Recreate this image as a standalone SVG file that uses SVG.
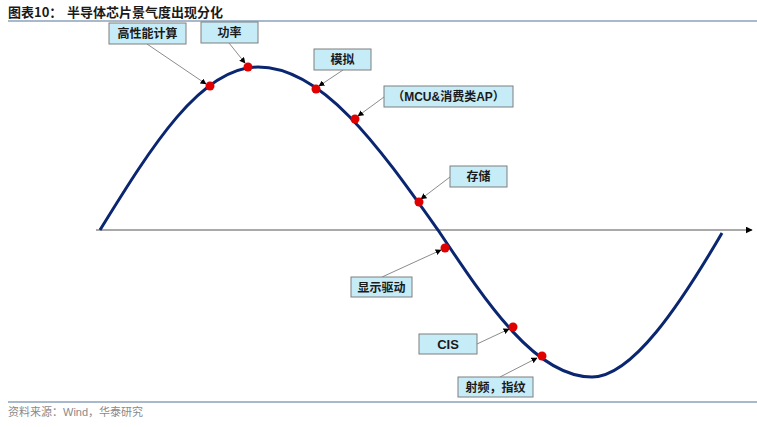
<svg xmlns="http://www.w3.org/2000/svg" width="757" height="427" viewBox="0 0 757 427">
<style>
.title{font-family:"Noto Sans CJK SC","Liberation Sans",sans-serif;font-weight:bold;font-size:13px;fill:#1a1a1a}
.src{font-family:"Liberation Sans","Noto Sans CJK SC",sans-serif;font-size:11px;fill:#8a8a8a}
.box{fill:#c6ecf8;stroke:#7f7f7f;stroke-width:1}
.lbl{font-family:"Liberation Sans","Noto Sans CJK SC",sans-serif;font-weight:bold;font-size:12px;fill:#1a1a1a;text-anchor:middle}
.lead{stroke:#8c8c8c;stroke-width:1;fill:none;marker-end:url(#ah)}
.dot{fill:#e00000}
</style>
<defs>
<marker id="ah" viewBox="0 0 10 10" refX="9" refY="5" markerWidth="6" markerHeight="6" orient="auto" markerUnits="userSpaceOnUse">
<path d="M0,0 L10,5 L0,10 Z" fill="#000"/>
</marker>
<marker id="axh" viewBox="0 0 10 10" refX="9" refY="5" markerWidth="7" markerHeight="7" orient="auto" markerUnits="userSpaceOnUse">
<path d="M0,0 L10,5 L0,10 Z" fill="#000"/>
</marker>
</defs>
<rect width="757" height="427" fill="#fff"/>
<text class="title" x="8" y="17">图表10：</text>
<text class="title" x="67" y="17">半导体芯片景气度出现分化</text>
<line x1="8" y1="21" x2="757" y2="21" stroke="#a9b9cd" stroke-width="2"/>
<line x1="8" y1="402" x2="757" y2="402" stroke="#a9b9cd" stroke-width="2"/>
<text class="src" x="8" y="416">资料来源：Wind，华泰研究</text>

<g id="axis">
<line x1="96" y1="230" x2="752" y2="230" stroke="#8c8c8c" stroke-width="1.6" marker-end="url(#axh)"/>
</g>
<g id="curve">
<path d="M100,230 C151.6,146.4 200.9,67 258,67 C322.7,67 378.6,146.4 438,230 C488,305 536,377 592,377 C632,377 680,305 722,233" fill="none" stroke="#0b2670" stroke-width="3"/>
</g>

<g id="connectors">
<line class="lead" x1="147" y1="44" x2="206" y2="84"/>
<line class="lead" x1="229" y1="43" x2="245" y2="63"/>
<line class="lead" x1="343" y1="70" x2="319" y2="86"/>
<line class="lead" x1="384" y1="97" x2="358" y2="116"/>
<line class="lead" x1="450" y1="177" x2="421" y2="199"/>
<line class="lead" x1="382" y1="277" x2="441" y2="250"/>
<line class="lead" x1="477" y1="344" x2="509" y2="329"/>
<line class="lead" x1="500" y1="377" x2="537" y2="358"/>
</g>

<g id="dots">
<circle class="dot" cx="210" cy="86" r="4.5"/>
<circle class="dot" cx="248" cy="67" r="4.5"/>
<circle class="dot" cx="316" cy="89" r="4.5"/>
<circle class="dot" cx="355" cy="119" r="4.5"/>
<circle class="dot" cx="419" cy="202" r="4.5"/>
<circle class="dot" cx="445" cy="248" r="4.5"/>
<circle class="dot" cx="513" cy="327" r="4.5"/>
<circle class="dot" cx="542" cy="356" r="4.5"/>
</g>

<g id="n-hpc"><rect class="box" x="109" y="23" width="77" height="21"/><text class="lbl" x="147.5" y="38">高性能计算</text></g>
<g id="n-power"><rect class="box" x="201" y="22" width="57" height="21"/><text class="lbl" x="229.5" y="37">功率</text></g>
<g id="n-analog"><rect class="box" x="314" y="49" width="57" height="21"/><text class="lbl" x="342.5" y="64">模拟</text></g>
<g id="n-mcu"><rect class="box" x="384" y="86" width="129" height="21"/><text class="lbl" x="448.5" y="101">（MCU&amp;消费类AP）</text></g>
<g id="n-storage"><rect class="box" x="450" y="166" width="57" height="21"/><text class="lbl" x="478.5" y="181">存储</text></g>
<g id="n-display"><rect class="box" x="351" y="277" width="61" height="20"/><text class="lbl" x="381.5" y="291.5">显示驱动</text></g>
<g id="n-cis"><rect class="box" x="419" y="334" width="58" height="20"/><text class="lbl" x="448" y="349" style="font-size:13px">CIS</text></g>
<g id="n-rf"><rect class="box" x="458" y="377" width="75" height="20"/><text class="lbl" x="495.5" y="391.5">射频，指纹</text></g>
</svg>
